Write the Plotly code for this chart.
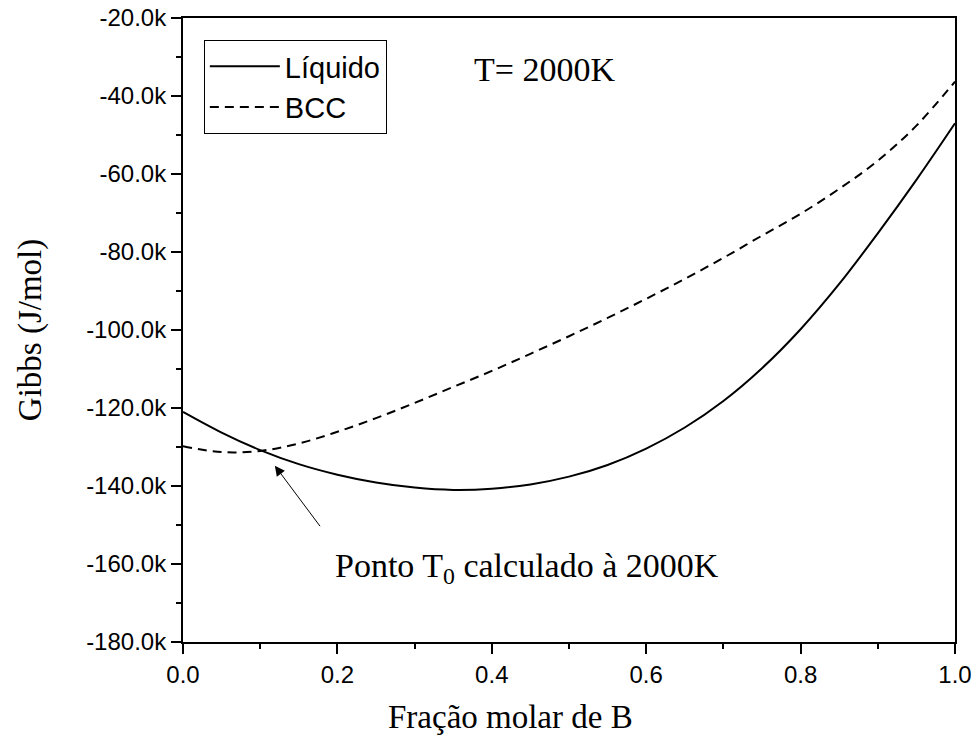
import plotly.graph_objects as go

x_frac = [0.0, 0.05, 0.1, 0.15, 0.2, 0.25, 0.3, 0.35, 0.4, 0.45, 0.5,
          0.55, 0.6, 0.65, 0.7, 0.75, 0.8, 0.85, 0.9, 0.95, 1.0]
g_liquido = [-121000, -126300, -130800, -134400, -137100, -139100, -140400, -141000,
             -140700, -139600, -137600, -134600, -130400, -125000, -118200, -109800,
             -99800, -88200, -75200, -61500, -47000]
g_bcc = [-129800, -131300, -131000, -129100, -126100, -122600, -118700, -114600,
         -110500, -106100, -101600, -96900, -92000, -86900, -81500, -75800,
         -70200, -63800, -56600, -47600, -36300]

y_tickvals = [-20000, -40000, -60000, -80000, -100000, -120000, -140000, -160000, -180000]
y_ticktext = ["-20.0k", "-40.0k", "-60.0k", "-80.0k", "-100.0k", "-120.0k", "-140.0k", "-160.0k", "-180.0k"]
x_tickvals = [0.0, 0.2, 0.4, 0.6, 0.8, 1.0]
x_ticktext = ["0.0", "0.2", "0.4", "0.6", "0.8", "1.0"]

arrow_tip = (0.119, -134800)
arrow_tail = (0.179, -150700)

fig = go.Figure()
fig.add_trace(go.Scatter(x=x_frac, y=g_liquido, mode="lines", name="Líquido",
                         line=dict(color="black", width=2, shape="spline")))
fig.add_trace(go.Scatter(x=x_frac, y=g_bcc, mode="lines", name="BCC",
                         line=dict(color="black", width=2, dash="9px,6px", shape="spline")))

serif = "Liberation Serif"
sans = "Liberation Sans, Arial"

fig.update_layout(
    width=976, height=742,
    margin=dict(l=183, r=21, t=18, b=100, autoexpand=False),
    plot_bgcolor="white", paper_bgcolor="white",
    showlegend=True,
    legend=dict(x=0.027, y=0.965, xanchor="left", yanchor="top",
                bordercolor="black", borderwidth=1, bgcolor="white",
                font=dict(family=sans, size=29, color="black"),
                tracegroupgap=0, itemwidth=70),
    xaxis=dict(range=[0, 1], tickvals=x_tickvals, ticktext=x_ticktext, automargin=False,
               ticks="outside", ticklen=10, tickwidth=2, tickcolor="black",
               showline=True, linecolor="black", linewidth=2, mirror=True,
               showgrid=False, zeroline=False,
               tickfont=dict(family=sans, size=24, color="black"),
               minor=dict(dtick=0.1, ticks="outside", ticklen=5, tickwidth=2, tickcolor="black", showgrid=False)),
    yaxis=dict(range=[-180000, -20000], tickvals=y_tickvals, ticktext=y_ticktext, automargin=False,
               ticks="outside", ticklen=10, tickwidth=2, tickcolor="black",
               showline=True, linecolor="black", linewidth=2, mirror=True,
               showgrid=False, zeroline=False,
               tickfont=dict(family=sans, size=24, color="black"),
               minor=dict(dtick=10000, ticks="outside", ticklen=5, tickwidth=2, tickcolor="black", showgrid=False)),
)

# axis titles
fig.add_annotation(x=0.4236, y=-0.120, xref="paper", yref="paper", text="Fração molar de B",
                   showarrow=False, xanchor="center", yanchor="middle",
                   font=dict(family=serif, size=33, color="black"))
fig.add_annotation(x=-0.198, y=0.5, xref="paper", yref="paper", text="Gibbs (J/mol)",
                   showarrow=False, xanchor="center", yanchor="middle", textangle=-90,
                   font=dict(family=serif, size=33, color="black"))

fig.add_annotation(x=0.374, y=-33300, xref="x", yref="y", text="T= 2000K", showarrow=False,
                   xanchor="left", yanchor="middle", font=dict(family=serif, size=34, color="black"))
fig.add_annotation(x=0.194, y=-161000, xref="x", yref="y",
                   text="Ponto T<sub>0</sub> calculado à 2000K", showarrow=False,
                   xanchor="left", yanchor="middle", font=dict(family=serif, size=34, color="black"))
fig.add_annotation(x=arrow_tip[0], y=arrow_tip[1], ax=arrow_tail[0], ay=arrow_tail[1],
                   xref="x", yref="y", axref="x", ayref="y", text="", showarrow=True,
                   arrowhead=2, arrowsize=2, arrowwidth=1, arrowcolor="black")

fig.write_html("out.html")
